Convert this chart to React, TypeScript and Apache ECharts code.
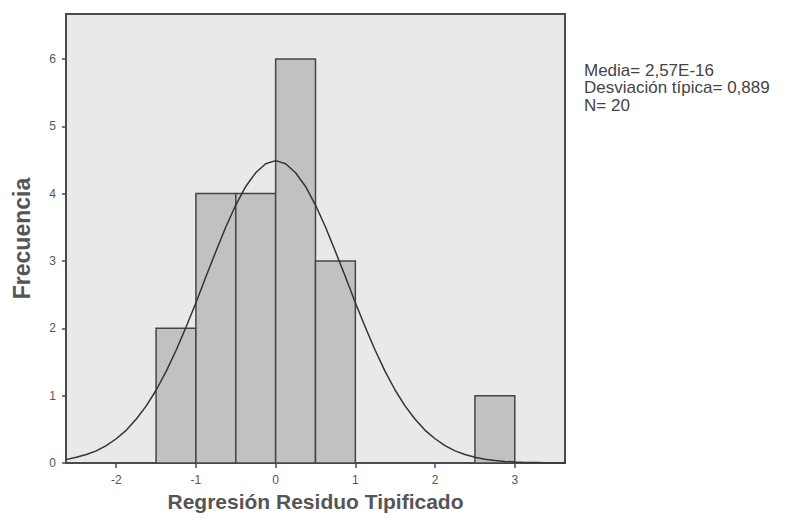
import React, { useEffect, useRef } from "react";
import * as echarts from "echarts";

// Histogram bins: [start, end, count]
const binStarts = [-1.5, -1.0, -0.5, 0.0, 0.5, 2.5];
const binEnds = [-1.0, -0.5, 0.0, 0.5, 1.0, 3.0];
const binCounts = [2, 4, 4, 6, 3, 1];

// Normal curve points
const curveX = [-2.63, -2.5, -2.375, -2.25, -2.125, -2.0, -1.875, -1.75, -1.625, -1.5, -1.375, -1.25, -1.125, -1.0, -0.875, -0.75, -0.625, -0.5, -0.375, -0.25, -0.125, 0, 0.125, 0.25, 0.375, 0.5, 0.625, 0.75, 0.875, 1.0, 1.125, 1.25, 1.375, 1.5, 1.625, 1.75, 1.875, 2.0, 2.125, 2.25, 2.375, 2.5, 2.625, 2.75, 2.875, 3.0, 3.125, 3.25, 3.375, 3.63];
const curveY = [0.05, 0.086, 0.126, 0.18, 0.258, 0.36, 0.485, 0.65, 0.844, 1.08, 1.356, 1.67, 2.015, 2.38, 2.765, 3.14, 3.505, 3.83, 4.106, 4.31, 4.444, 4.49, 4.444, 4.31, 4.106, 3.83, 3.505, 3.14, 2.765, 2.38, 2.015, 1.67, 1.356, 1.08, 0.844, 0.65, 0.485, 0.36, 0.258, 0.18, 0.126, 0.086, 0.057, 0.037, 0.024, 0.015, 0.009, 0.006, 0.003, 0.001];

const xTicks = [-2, -1, 0, 1, 2, 3];
const yTicks = [0, 1, 2, 3, 4, 5, 6];
const statLines = ["Media= 2,57E-16", "Desviación típica= 0,889", "N= 20"];

export default function App() {
  const ref = useRef<HTMLDivElement>(null);
  useEffect(() => {
    if (!ref.current) return;
    const chart = echarts.init(ref.current, null, { renderer: "svg" });
    const binData = binStarts.map((s, i) => [s, binEnds[i], binCounts[i]]);
    const curveData = curveX.map((x, i) => [x, curveY[i]]);
    const font = "'Liberation Sans', Arial, sans-serif";
    chart.setOption({
      animation: false,
      backgroundColor: "#ffffff",
      grid: {
        left: 66,
        top: 14,
        right: 225,
        bottom: 54,
        containLabel: false,
        outerBoundsMode: "none",
        show: true,
        backgroundColor: "#e9e9eb",
        borderColor: "#4a4a4a",
        borderWidth: 2,
      },
      xAxis: {
        type: "value",
        min: -2.63,
        max: 3.63,
        name: "Regresión Residuo Tipificado",
        nameLocation: "middle",
        nameGap: 28,
        nameTextStyle: { fontFamily: font, fontSize: 21, fontWeight: "bold", color: "#555555" },
        axisLine: { show: true, onZero: false, lineStyle: { color: "#4a4a4a", width: 2 } },
        axisTick: { show: true, length: 5, customValues: xTicks, lineStyle: { color: "#4a4a4a", width: 1.5 } },
        axisLabel: { customValues: xTicks, fontFamily: font, fontSize: 12, color: "#555555", margin: 11 },
        splitLine: { show: false },
      },
      yAxis: {
        type: "value",
        min: 0,
        max: 6.667,
        name: "Frecuencia",
        nameLocation: "middle",
        nameGap: 33,
        nameRotate: 90,
        nameTextStyle: { fontFamily: font, fontSize: 23, fontWeight: "bold", color: "#555555" },
        axisLine: { show: true, onZero: false, lineStyle: { color: "#4a4a4a", width: 2 } },
        axisTick: { show: true, length: 4, customValues: yTicks, lineStyle: { color: "#4a4a4a", width: 1.5 } },
        axisLabel: { customValues: yTicks, fontFamily: font, fontSize: 12, color: "#555555", margin: 10 },
        splitLine: { show: false },
      },
      series: [
        {
          type: "custom",
          data: binData,
          encode: { x: [0, 1], y: 2 },
          renderItem: (params: any, api: any) => {
            const p0 = api.coord([api.value(0), 0]);
            const p1 = api.coord([api.value(1), api.value(2)]);
            return {
              type: "rect",
              shape: { x: p0[0], y: p1[1], width: p1[0] - p0[0], height: p0[1] - p1[1] },
              style: { fill: "#c1c1c3", stroke: "#454545", lineWidth: 1.5 },
            };
          },
        },
        {
          type: "line",
          data: curveData,
          smooth: false,
          showSymbol: false,
          clip: true,
          lineStyle: { color: "#333333", width: 1.5 },
        },
      ],
      graphic: statLines.map((t, i) => ({
        type: "text",
        x: 584,
        y: 70 + i * 17.5,
        style: {
          text: t,
          fontFamily: font,
          fontSize: 17,
          lineHeight: 17,
          verticalAlign: "middle",
          fill: "#444444",
        },
      })),
    });
    return () => chart.dispose();
  }, []);
  return <div ref={ref} style={{ width: 790, height: 517, position: "absolute", left: 0, top: 0 }} />;
}
